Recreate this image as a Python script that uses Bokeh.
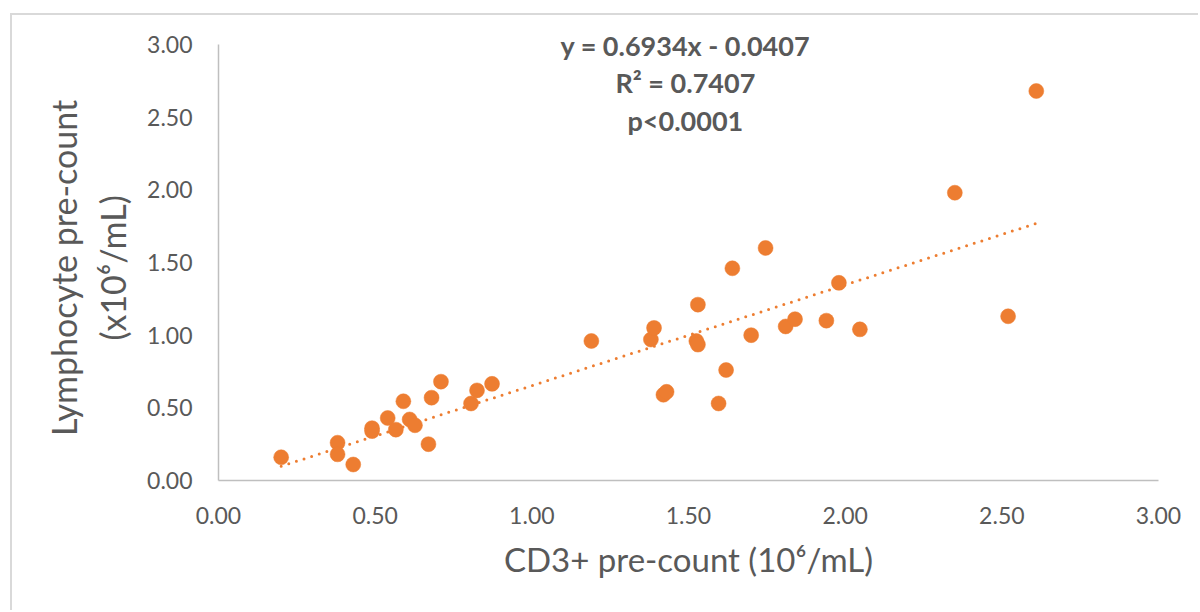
from bokeh.plotting import figure
from bokeh.models import FixedTicker, NumeralTickFormatter, Label, ColumnDataSource
from bokeh.embed import file_html
from bokeh.resources import INLINE

# Data
cd3_pre = [0.20, 0.38, 0.38, 0.43, 0.49, 0.49, 0.54, 0.566, 0.59, 0.61, 0.627, 0.67, 0.68, 0.71,
           0.806, 0.825, 0.873, 1.19, 1.38, 1.39, 1.42, 1.43, 1.525, 1.53, 1.53, 1.596, 1.62,
           1.64, 1.70, 1.746, 1.81, 1.84, 1.94, 1.98, 2.047, 2.35, 2.52, 2.61]
lymph_pre = [0.16, 0.26, 0.18, 0.11, 0.36, 0.34, 0.43, 0.35, 0.545, 0.42, 0.38, 0.25, 0.57, 0.68,
             0.53, 0.62, 0.665, 0.96, 0.97, 1.05, 0.59, 0.61, 0.96, 0.935, 1.21, 0.53, 0.76,
             1.46, 1.00, 1.60, 1.06, 1.11, 1.10, 1.36, 1.04, 1.98, 1.13, 2.68]
slope = 0.6934
intercept = -0.0407
eq_lines = ["y = 0.6934x - 0.0407", "R² = 0.7407", "p<0.0001"]
tick_values = [0, 0.5, 1.0, 1.5, 2.0, 2.5, 3.0]
x_title = "CD3+ pre-count (10⁶/mL)"
y_title_lines = ["Lymphocyte pre-count", "(x10⁶/mL)"]

ORANGE = "#ED7D31"
GRAY = "#595959"
FONT = "Lato"

p = figure(width=1188, height=597, x_range=(0, 3), y_range=(0, 3.165),
           output_backend="svg", toolbar_location=None,
           min_border_left=206, min_border_right=42, min_border_top=5, min_border_bottom=132)
p.margin = (13, 0, 0, 10)
p.styles = {"border-top": "2px solid #D9D9D9", "border-left": "2px solid #D9D9D9"}

p.outline_line_color = None
p.grid.visible = False
p.background_fill_color = "white"
p.border_fill_color = "white"

for ax in (p.xaxis[0], p.yaxis[0]):
    ax.ticker = FixedTicker(ticks=tick_values)
    ax.formatter = NumeralTickFormatter(format="0.00")
    ax.bounds = (0, 3)
    ax.axis_line_color = "#BFBFBF"
    ax.axis_line_width = 1.5
    ax.major_tick_line_color = None
    ax.minor_tick_line_color = None
    ax.major_tick_out = 0
    ax.major_tick_in = 0
    ax.major_label_text_font = FONT
    ax.major_label_text_font_size = "23px"
    ax.major_label_text_color = GRAY
    ax.axis_label_text_font = FONT
    ax.axis_label_text_font_style = "normal"
    ax.axis_label_text_color = GRAY

p.xaxis.axis_label_text_font_size = "33px"
p.yaxis.axis_label_text_font_size = "34px"
p.xaxis.major_label_standoff = 26
p.yaxis.major_label_standoff = 26
p.xaxis.axis_label = x_title
# trailing no-break spaces keep the rotated title centred on the 0-3 axis span
pad = "\u00a0" * 4
p.yaxis.axis_label = "\n".join(line + pad for line in y_title_lines)
p.xaxis.axis_label_standoff = 12
p.yaxis.axis_label_standoff = 11

# Trendline from fit parameters across data range
x0, x1 = min(cd3_pre), max(cd3_pre)
p.line([x0, x1], [slope * x0 + intercept, slope * x1 + intercept],
       line_color=ORANGE, line_width=3, line_dash="0 8", line_cap="round")

src = ColumnDataSource(dict(x=cd3_pre, y=lymph_pre))
p.scatter("x", "y", source=src, size=15, fill_color=ORANGE, line_color=ORANGE, line_width=0.5)

label_y = [2.993, 2.739, 2.477]
for txt, ly in zip(eq_lines, label_y):
    p.add_layout(Label(x=1.49, y=ly, text=txt, text_align="center", text_baseline="middle",
                       text_font=FONT, text_font_style="bold", text_font_size="27px",
                       text_color=GRAY))

open("out.html", "w").write(file_html(p, INLINE))
